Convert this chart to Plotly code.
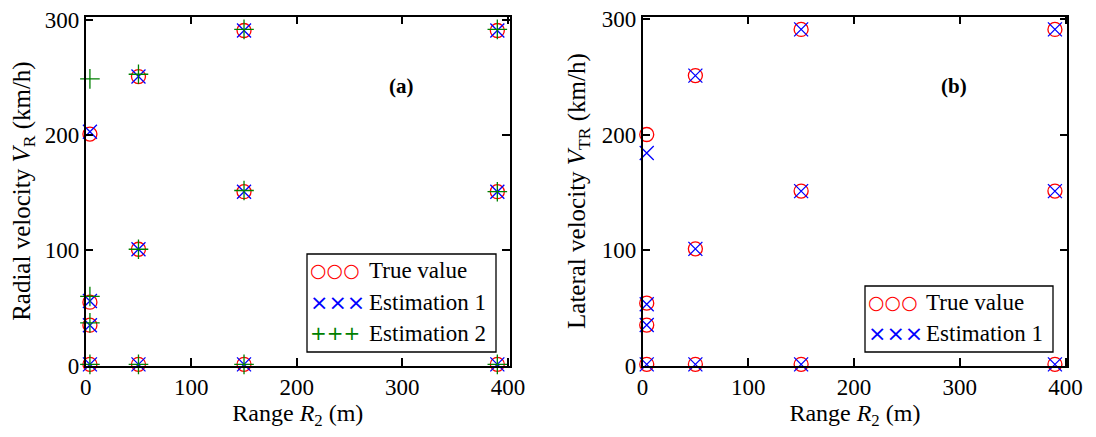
import plotly.graph_objects as go

# ---------------- data ----------------
# Panel (a): radial velocity
x_a = [4, 4, 4, 4, 50, 50, 50, 150, 150, 150, 390, 390, 390]
true_a = [1, 35, 55, 201, 1, 101, 251, 1, 151, 291, 1, 151, 291]
est1_a = [1, 35, 56, 203, 1, 101, 251, 1, 151, 291, 1, 151, 291]
est2_a = [1, 37, 60, 249, 1, 101, 253, 1, 152, 292, 1, 151, 292]

# Panel (b): lateral velocity
x_b = [4, 4, 4, 4, 50, 50, 50, 150, 150, 150, 390, 390, 390]
true_b = [1, 35, 54, 200, 1, 101, 251, 1, 151, 291, 1, 151, 291]
est1_b = [1, 35, 53, 184, 1, 101, 251, 1, 151, 291, 1, 151, 291]

x_ticks = [0, 100, 200, 300, 400]
y_ticks = [0, 100, 200, 300]

W, H = 1096, 437
OFF = 8  # page body margin
FONT = "'Liberation Serif', 'Times New Roman', Times, serif"

def px(x):
    return (x - OFF) / W

def py(y):
    return (H - (y - OFF)) / H

fig = go.Figure()

mk = dict(size=14, line=dict(width=1.3))
fig.add_trace(go.Scatter(x=x_a, y=true_a, mode="markers", name="True value",
                         marker=dict(symbol="circle-open", color="red", **mk),
                         xaxis="x", yaxis="y", cliponaxis=False, showlegend=False))
fig.add_trace(go.Scatter(x=x_a, y=est1_a, mode="markers", name="Estimation 1",
                         marker=dict(symbol="x-thin-open", color="blue", **mk),
                         xaxis="x", yaxis="y", cliponaxis=False, showlegend=False))
fig.add_trace(go.Scatter(x=x_a, y=est2_a, mode="markers", name="Estimation 2",
                         marker=dict(symbol="cross-thin-open", color="green", **mk),
                         xaxis="x", yaxis="y", cliponaxis=False, showlegend=False))
fig.add_trace(go.Scatter(x=x_b, y=true_b, mode="markers", name="True value",
                         marker=dict(symbol="circle-open", color="red", **mk),
                         xaxis="x2", yaxis="y2", cliponaxis=False, showlegend=False))
fig.add_trace(go.Scatter(x=x_b, y=est1_b, mode="markers", name="Estimation 1",
                         marker=dict(symbol="x-thin-open", color="blue", **mk),
                         xaxis="x2", yaxis="y2", cliponaxis=False, showlegend=False))

ax_common = dict(showline=True, linecolor="black", linewidth=1.5, mirror="ticks",
                 ticks="inside", ticklen=8, tickwidth=1.5, tickcolor="black",
                 showgrid=False, zeroline=False, automargin=False,
                 ticklabeloverflow="allow",
                 tickfont=dict(family=FONT, size=23, color="black"))

ydom = [py(365.5), py(16.7)]
fig.update_layout(
    width=W, height=H,
    margin=dict(l=0, r=0, t=0, b=0, autoexpand=False),
    paper_bgcolor="white", plot_bgcolor="white",
    font=dict(family=FONT, size=22, color="black"),
    xaxis=dict(domain=[px(85.7), px(510)], range=[0, 402], tickvals=x_ticks,
               anchor="y",
               title=dict(text="Range <i>R</i><sub>2</sub> (m)", standoff=4,
                          font=dict(family=FONT, size=24)), **ax_common),
    yaxis=dict(domain=ydom, range=[0, 303], tickvals=y_ticks, anchor="x",
               title=dict(text="Radial velocity <i>V</i><sub>R</sub> (km/h)", standoff=11,
                          font=dict(family=FONT, size=25)), **ax_common),
    xaxis2=dict(domain=[px(642.5), px(1067.3)], range=[0, 401.7], tickvals=x_ticks,
                anchor="y2",
                title=dict(text="Range <i>R</i><sub>2</sub> (m)", standoff=4,
                           font=dict(family=FONT, size=24)), **ax_common),
    yaxis2=dict(domain=ydom, range=[0, 302], tickvals=y_ticks, anchor="x2",
                title=dict(text="Lateral velocity <i>V</i><sub>TR</sub> (km/h)", standoff=9,
                           font=dict(family=FONT, size=25)), **ax_common),
)

ann = []
ann.append(dict(text="<b>(a)</b>", x=px(401), y=py(72), xref="paper", yref="paper",
                showarrow=False, font=dict(family=FONT, size=21, color="black")))
ann.append(dict(text="<b>(b)</b>", x=px(969), y=py(72), xref="paper", yref="paper",
                showarrow=False, font=dict(family=FONT, size=21, color="black")))

SYM = "'DejaVu Sans', sans-serif"
SYM_SIZE = {"○○○": 19, "×××": 22, "+++": 20}
def legend_rows(x_sym, x_txt, rows):
    for sym, col, label, yc in rows:
        ann.append(dict(text=sym, x=px(x_sym), y=py(yc), xref="paper", yref="paper",
                        xanchor="left", yanchor="middle", showarrow=False,
                        font=dict(family=SYM, size=SYM_SIZE[sym], color=col)))
        ann.append(dict(text=label, x=px(x_txt), y=py(yc), xref="paper", yref="paper",
                        xanchor="left", yanchor="middle", showarrow=False,
                        font=dict(family=FONT, size=23, color="black")))

legend_rows(308, 367, [("○○○", "red", "True value", 270),
                       ("×××", "blue", "Estimation 1", 302),
                       ("+++", "green", "Estimation 2", 333)])
legend_rows(866, 924, [("○○○", "red", "True value", 302),
                       ("×××", "blue", "Estimation 1", 333)])

shapes = [
    dict(type="rect", xref="paper", yref="paper", x0=px(307), x1=px(496),
         y0=py(352), y1=py(254), line=dict(color="black", width=1.3), fillcolor="white",
         layer="below"),
    dict(type="rect", xref="paper", yref="paper", x0=px(865), x1=px(1053),
         y0=py(352), y1=py(286), line=dict(color="black", width=1.3), fillcolor="white",
         layer="below"),
]
fig.update_layout(annotations=ann, shapes=shapes)

fig.write_html("out.html")
